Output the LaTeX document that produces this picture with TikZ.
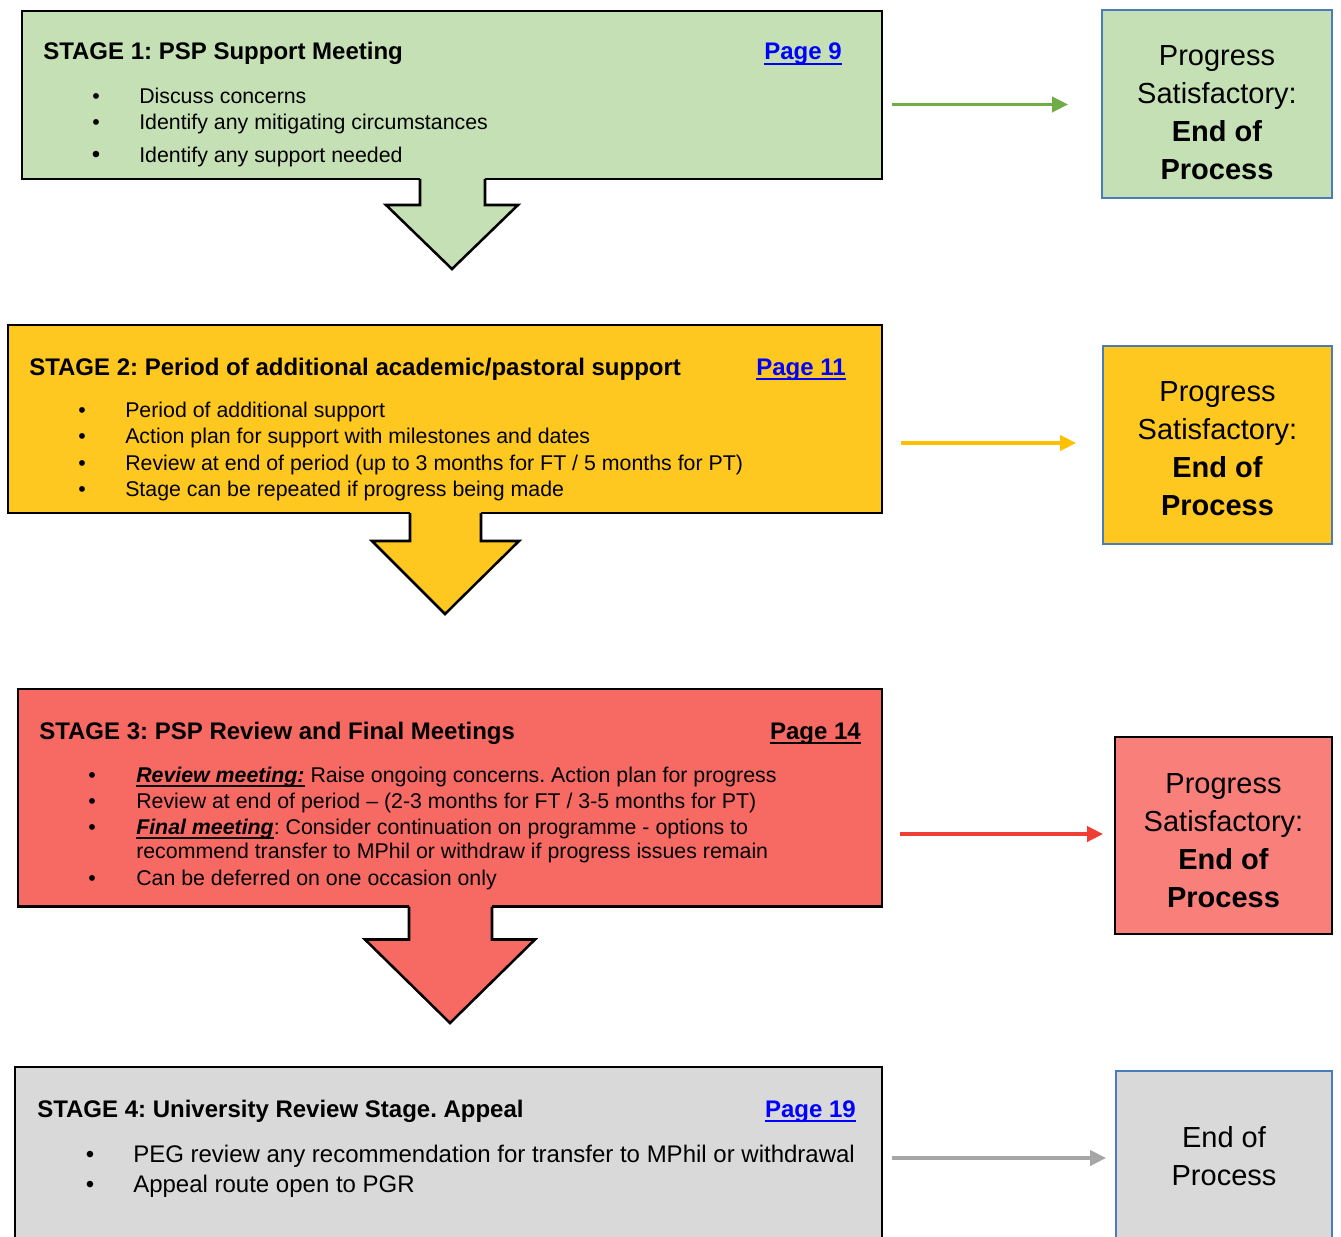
\documentclass[tikz,border=0pt]{standalone}
\usepackage{fontspec}
\setmainfont{Liberation Sans}
\newcommand\myul[1]{\setbox0\hbox{#1}\leavevmode\rlap{\rule[-3.4pt]{\wd0}{1.3pt}}\box0\relax}
\frenchspacing
\usetikzlibrary{arrows.meta}
\definecolor{sgreen}{HTML}{C5E0B4}
\definecolor{syellow}{HTML}{FFC820}
\definecolor{sred}{HTML}{F76A64}
\definecolor{ered}{HTML}{F97F7B}
\definecolor{sgray}{HTML}{D9D9D9}
\definecolor{eblue}{HTML}{4A7DB8}
\definecolor{agreen}{HTML}{70AD47}
\definecolor{ayellow}{HTML}{FFC000}
\definecolor{ared}{HTML}{EF3E36}
\definecolor{agray}{HTML}{A6A6A6}
\definecolor{linkblue}{HTML}{0000FF}
\tikzset{
  stagebox/.style={draw=black, line width=1.9pt, inner sep=0pt},
  outl/.style={draw=black, line width=1.9pt, line join=miter},
  body/.style={anchor=base west, inner sep=0pt, font=\fontsize{16pt}{19.5pt}\selectfont},
  bodyb/.style={anchor=base west, inner sep=0pt, font=\fontsize{18pt}{22pt}\selectfont},
  bul/.style={anchor=base, inner sep=0pt, font=\fontsize{16pt}{19.5pt}\selectfont},
  bulb/.style={anchor=base, inner sep=0pt, font=\fontsize{18pt}{22pt}\selectfont},
  ttl/.style={anchor=base west, inner sep=0pt, font=\fontsize{18pt}{22pt}\selectfont\bfseries},
  pg/.style={anchor=base east, inner sep=0pt, font=\fontsize{18pt}{22pt}\selectfont\bfseries},
  endbox/.style={draw=eblue, line width=1.8pt, inner sep=0pt},
  endtxt/.style={align=center, inner sep=0pt, font=\fontsize{21.75pt}{28.5pt}\selectfont},
  harrow/.style={line width=2.4pt, -{Triangle[length=12pt,width=11.5pt]}},
}
\begin{document}
\begin{tikzpicture}[x=0.75pt,y=-0.75pt]
\clip (0,0) rectangle (1341,1237);
\fill[white] (0,0) rectangle (1341,1237);

% ---------------- Stage 1 ----------------
\node[stagebox, fill=sgreen, minimum width=645pt, minimum height=126pt] (s1) at (452,95) {};
\fill[sgreen] (420,176) -- (420,205) -- (386,205) -- (452,269) -- (518,205) -- (485,205) -- (485,176) -- cycle;
\draw[outl] (420,179) -- (420,205) -- (386,205) -- (452,269) -- (518,205) -- (485,205) -- (485,179);
\node[ttl] (t1) at (43,60) {STAGE 1: PSP Support Meeting};
\node[pg, text=linkblue] (p1) at (842,60) {\myul{Page 9}};
\node[bul] (b11) at (96,103.5) {•};
\node[body] (l11) at (139,103.5) {Discuss concerns};
\node[bul] (b12) at (96,129.5) {•};
\node[body] (l12) at (139,129.5) {Identify any mitigating circumstances};
\node[bulb] (b13) at (96,162.5) {•};
\node[body] (l13) at (139,162.5) {Identify any support needed};

\node[endbox, fill=sgreen, minimum width=172.5pt, minimum height=141pt] (e1) at (1217,104) {};
\node[endtxt] (e1t) at (1217,113) {Progress\\Satisfactory:\\\textbf{End of}\\\textbf{Process}};
\coordinate (a1s) at (892,104.5);
\coordinate (a1e) at (1068,104.5);
\draw[harrow, agreen] (a1s) -- (a1e);

% ---------------- Stage 2 ----------------
\node[stagebox, fill=syellow, minimum width=655.5pt, minimum height=141pt] (s2) at (445,419) {};
\fill[syellow] (410,510) -- (410,541) -- (372,541) -- (445,614) -- (519,541) -- (481,541) -- (481,510) -- cycle;
\draw[outl] (410,513) -- (410,541) -- (372,541) -- (445,614) -- (519,541) -- (481,541) -- (481,513);
\node[ttl] (t2) at (29,375.5) {STAGE 2: Period of additional academic/pastoral support};
\node[pg, text=linkblue] (p2) at (846,375.5) {\myul{Page 11}};
\node[bul] (b21) at (82,417.5) {•};
\node[body] (l21) at (125,417.5) {Period of additional support};
\node[bul] (b22) at (82,443.5) {•};
\node[body] (l22) at (125,443.5) {Action plan for support with milestones and dates};
\node[bul] (b23) at (82,470.5) {•};
\node[body] (l23) at (125,470.5) {Review at end of period (up to 3 months for FT / 5 months for PT)};
\node[bul] (b24) at (82,496.5) {•};
\node[body] (l24) at (125,496.5) {Stage can be repeated if progress being made};

\node[endbox, fill=syellow, minimum width=171.75pt, minimum height=148.5pt] (e2) at (1217.5,445) {};
\node[endtxt] (e2t) at (1217.5,449) {Progress\\Satisfactory:\\\textbf{End of}\\\textbf{Process}};
\coordinate (a2s) at (901,443);
\coordinate (a2e) at (1076,443);
\draw[harrow, ayellow] (a2s) -- (a2e);

% ---------------- Stage 3 ----------------
\node[stagebox, fill=sred, minimum width=648pt, minimum height=163.1pt] (s3) at (450,797.75) {};
\fill[sred] (409,903) -- (409,939.5) -- (365,939.5) -- (450,1023) -- (535,939.5) -- (492,939.5) -- (492,903) -- cycle;
\draw[outl] (409,906.5) -- (409,939.5) -- (365,939.5) -- (450,1023) -- (535,939.5) -- (492,939.5) -- (492,906.5);
\node[ttl] (t3) at (39,739.5) {STAGE 3: PSP Review and Final Meetings};
\node[pg] (p3) at (861,739.5) {\myul{Page 14}};
\node[bul] (b31) at (92,782) {•};
\node[body] (l31) at (136,782) {\myul{\textbf{\textit{Review meeting:}}} Raise ongoing concerns. Action plan for progress};
\node[bul] (b32) at (92,808) {•};
\node[body] (l32) at (136,808) {Review at end of period – (2-3 months for FT / 3-5 months for PT)};
\node[bul] (b33) at (92,834) {•};
\node[body] (l33) at (136,834) {\myul{\textbf{\textit{Final meeting}}}: Consider continuation on programme - options to};
\node[body] (l33b) at (136,858) {recommend transfer to MPhil or withdraw if progress issues remain};
\node[bul] (b34) at (92,885) {•};
\node[body] (l34) at (136,885) {Can be deferred on one occasion only};

\node[draw=black, line width=1.9pt, fill=ered, inner sep=0pt, minimum width=162.75pt, minimum height=147.75pt] (e3) at (1223.5,835.5) {};
\node[endtxt] (e3t) at (1223.5,840.5) {Progress\\Satisfactory:\\\textbf{End of}\\\textbf{Process}};
\coordinate (a3s) at (900,834);
\coordinate (a3e) at (1103,834);
\draw[harrow, ared] (a3s) -- (a3e);

% ---------------- Stage 4 ----------------
\node[stagebox, fill=sgray, minimum width=650.25pt, minimum height=144.75pt] (s4) at (448.5,1163.5) {};
\node[ttl] (t4) at (37,1117.5) {STAGE 4: University Review Stage. Appeal};
\node[pg, text=linkblue] (p4) at (856,1117.5) {\myul{Page 19}};
\node[bulb] (b41) at (90,1162) {•};
\node[bodyb] (l41) at (133,1162) {PEG review any recommendation for transfer to MPhil or withdrawal};
\node[bulb] (b42) at (90,1192) {•};
\node[bodyb] (l42) at (133,1192) {Appeal route open to PGR};

\node[endbox, fill=sgray, minimum width=162pt, minimum height=141.75pt] (e4) at (1224,1165.5) {};
\node[endtxt] (e4t) at (1224,1156) {End of\\Process};
\coordinate (a4s) at (892,1158);
\coordinate (a4e) at (1106,1158);
\draw[harrow, agray] (a4s) -- (a4e);
\end{tikzpicture}
\end{document}
